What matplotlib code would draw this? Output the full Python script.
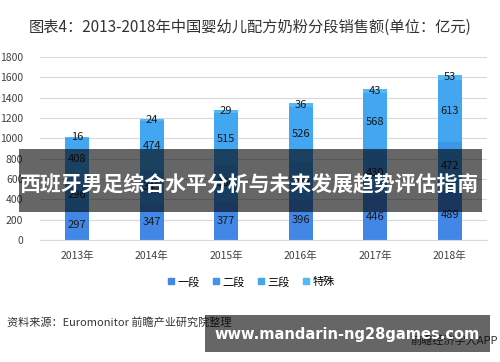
import numpy as np
import matplotlib.pyplot as plt
from matplotlib.patches import Rectangle
from matplotlib.lines import Line2D

plt.rcParams['font.family'] = ['Noto Sans CJK SC', 'DejaVu Sans']

# datos
anios = ['2013年', '2014年', '2015年', '2016年', '2017年', '2018年']
seg1 = [297, 347, 377, 396, 446, 489]
seg2 = [296, 345, 360, 385, 430, 472]
seg3 = [408, 474, 515, 526, 568, 613]
especial = [16, 24, 29, 36, 43, 53]
nombres = ['一段', '二段', '三段', '特殊']
colores = ['#4287e6', '#3d96e8', '#42a6f0', '#52b8f7']

W, H = 500, 362
fig = plt.figure(figsize=(W / 100, H / 100), dpi=100)
fig.patch.set_facecolor('white')

ax = fig.add_axes([40 / W, 122 / H, 447 / W, 183 / H])
x = np.arange(len(anios))
ancho = 0.32
base = np.zeros(len(anios))
for serie, color in zip([seg1, seg2, seg3, especial], colores):
	barras = ax.bar(x, serie, width=ancho, bottom=base, color=color, zorder=2)
	for b, v, y0 in zip(barras, serie, base):
		ax.text(b.get_x() + b.get_width() / 2, y0 + v / 2, str(v),
				ha='center', va='center', fontsize=8, color='#1a1a1a', zorder=3)
	base = base + np.array(serie)

ax.set_xlim(-0.5, len(anios) - 0.5)
ax.set_ylim(0, 1800)
ax.set_yticks(range(0, 1801, 200))
ax.set_xticks(x)
ax.set_xticklabels(anios)
ax.tick_params(axis='both', length=0, labelsize=7.5, colors='#404040')
ax.tick_params(axis='y', pad=12)
ax.tick_params(axis='x', pad=8)
ax.grid(axis='y', color='#d9d9d9', linewidth=0.8, zorder=0)
for s in ['top', 'right', 'left']:
	ax.spines[s].set_visible(False)
ax.spines['bottom'].set_color('#d9d9d9')

# leyenda
manijas = [Line2D([], [], marker='s', linestyle='', color=c, markersize=4.5) for c in colores]
fig.legend(manijas, nombres, loc='center', bbox_to_anchor=(0.5, 1 - 282 / H), ncol=4,
		   frameon=False, fontsize=8, handletextpad=0.05, columnspacing=1.0, handlelength=1.0)

# titulo
fig.text(0.5, 1 - 27 / H, '图表4：2013-2018年中国婴幼儿配方奶粉分段销售额(单位：亿元)',
		 ha='center', va='center', fontsize=11, color='#333333')

# fuente
fig.text(7 / W, 1 - 322 / H, '资料来源：Euromonitor 前瞻产业研究院整理',
		 ha='left', va='center', fontsize=8, color='#333333')
fig.text(498 / W, 1 - 340 / H, '前瞻经济学人APP', ha='right', va='center', fontsize=8, color='#333333')

# banda central
fig.patches.append(Rectangle((19 / W, 1 - 212 / H), 463 / W, 63 / H, transform=fig.transFigure,
							 facecolor='black', alpha=0.6, zorder=10))
fig.text(0.5, 1 - 185 / H, '西班牙男足综合水平分析与未来发展趋势评估指南', ha='center', va='center',
		 fontsize=15, fontweight='bold', color='white', zorder=11)

# banda inferior
fig.patches.append(Rectangle((205 / W, 1 - 352 / H), 285 / W, 37 / H, transform=fig.transFigure,
							 facecolor='black', alpha=0.6, zorder=10))
fig.text(347 / W, 1 - 334 / H, 'www.mandarin-ng28games.com', ha='center', va='center',
		 fontsize=10.5, fontweight='bold', color='white', family='DejaVu Sans', zorder=11)

fig.savefig('out.png', dpi=100)
